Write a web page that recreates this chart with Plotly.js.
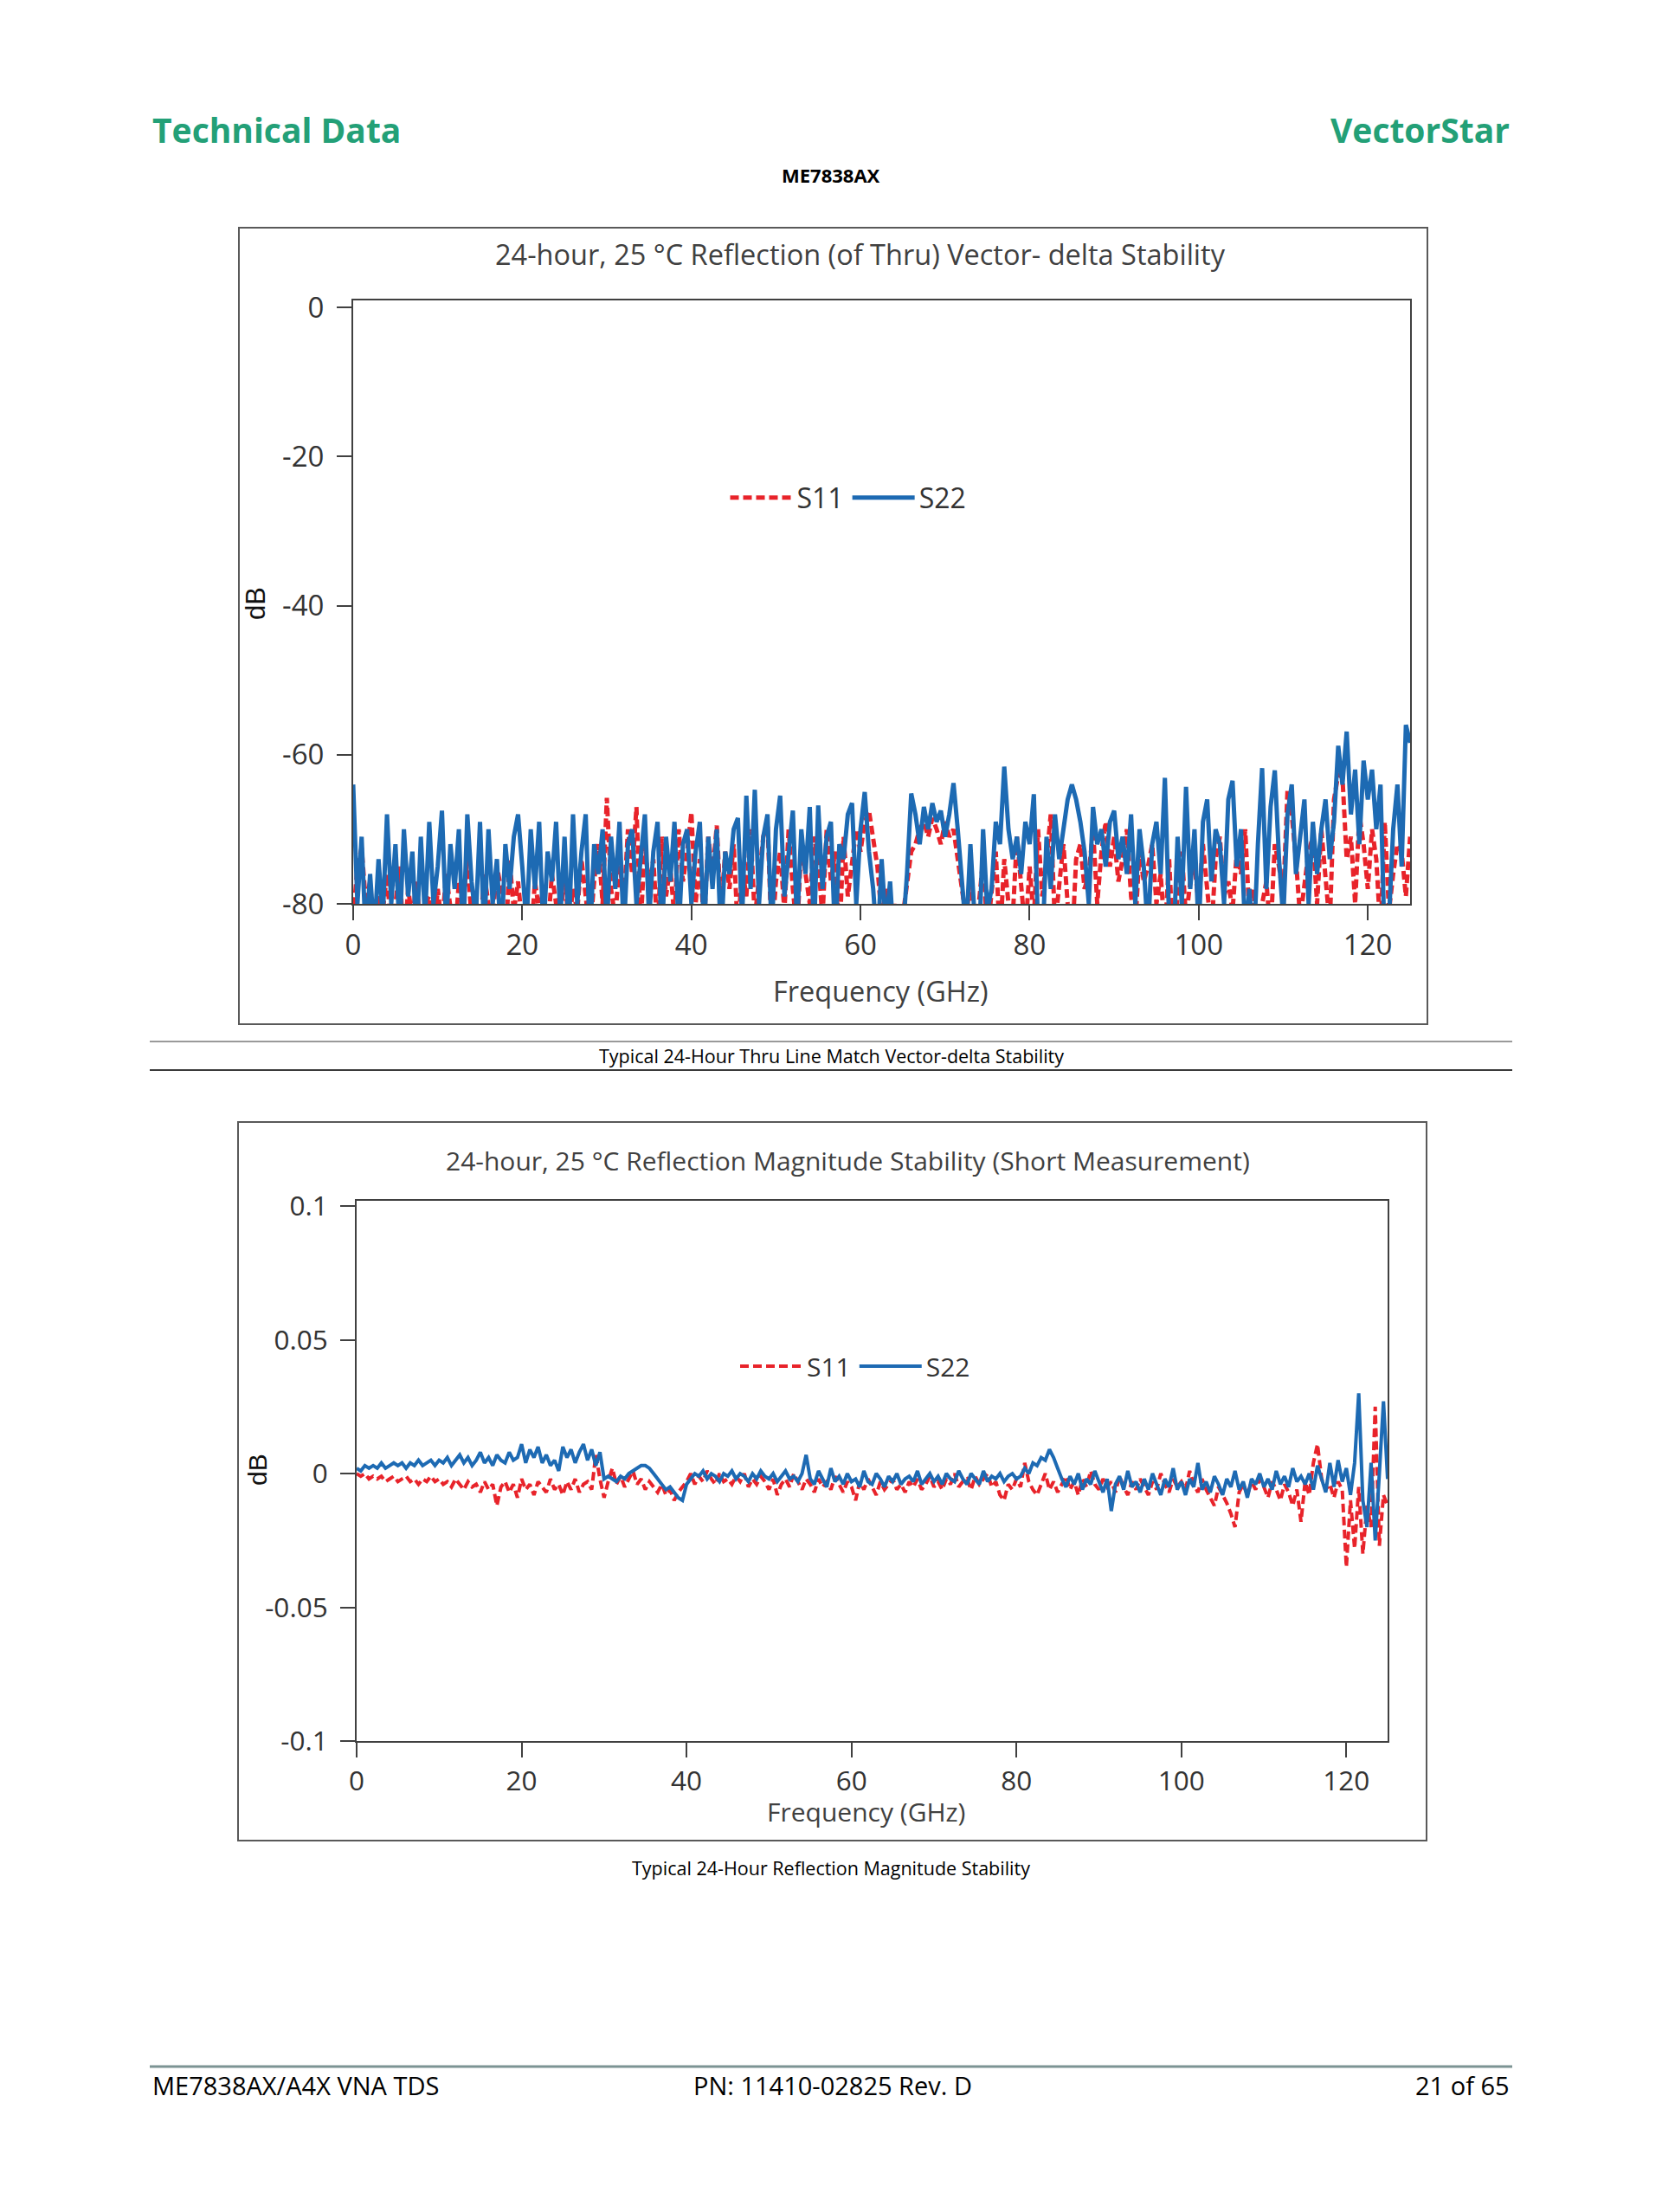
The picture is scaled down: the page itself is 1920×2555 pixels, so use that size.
<!DOCTYPE html>
<html><head><meta charset="utf-8">
<script src="https://cdn.plot.ly/plotly-3.0.1.min.js"></script>
<style>html,body{margin:0;padding:0;background:#fff}#chart{width:1920px;height:2555px}</style>
</head><body><div id="chart"></div>
<script>
// ---------- DATA ----------
const freqGHz = [
0,0.5,1,1.5,2,2.5,3,3.5,4,4.5, 5,5.5,6,6.5,7,7.5,8,8.5,9,9.5,
10,10.5,11,11.5,12,12.5,13,13.5,14,14.5, 15,15.5,16,16.5,17,17.5,18,18.5,19,19.5,
20,20.5,21,21.5,22,22.5,23,23.5,24,24.5, 25,25.5,26,26.5,27,27.5,28,28.5,29,29.5,
30,30.5,31,31.5,32,32.5,33,33.5,34,34.5, 35,35.5,36,36.5,37,37.5,38,38.5,39,39.5,
40,40.5,41,41.5,42,42.5,43,43.5,44,44.5, 45,45.5,46,46.5,47,47.5,48,48.5,49,49.5,
50,50.5,51,51.5,52,52.5,53,53.5,54,54.5, 55,55.5,56,56.5,57,57.5,58,58.5,59,59.5,
60,60.5,61,61.5,62,62.5,63,63.5,64,64.5, 65,65.5,66,66.5,67,67.5,68,68.5,69,69.5,
70,70.5,71,71.5,72,72.5,73,73.5,74,74.5, 75,75.5,76,76.5,77,77.5,78,78.5,79,79.5,
80,80.5,81,81.5,82,82.5,83,83.5,84,84.5, 85,85.5,86,86.5,87,87.5,88,88.5,89,89.5,
90,90.5,91,91.5,92,92.5,93,93.5,94,94.5, 95,95.5,96,96.5,97,97.5,98,98.5,99,99.5,
100,100.5,101,101.5,102,102.5,103,103.5,104,104.5, 105,105.5,106,106.5,107,107.5,108,108.5,109,109.5,
110,110.5,111,111.5,112,112.5,113,113.5,114,114.5, 115,115.5,116,116.5,117,117.5,118,118.5,119,119.5,
120,120.5,121,121.5,122,122.5,123,123.5,124,124.5, 125];

// Chart 1: vector-delta stability (dB)
const thruS11 = [
-82,-75,-72.5,-80,-77,-85,-79,-81,-76,-84, -80,-75,-86,-78,-82,-77,-84,-80,-79,-85,
-78,-83,-76,-81,-85,-77,-80,-74,-82,-79, -84,-76,-80,-82,-75,-78,-86,-74,-81,-77,
-83,-79,-85,-77,-81,-78,-84,-76,-80,-82, -76,-83,-78,-81,-74,-79,-84,-77,-72,-80,
-65.8,-78,-82,-74,-80,-70,-76,-67,-83,-72, -78,-74,-84,-71,-79,-75,-82,-70,-77,-73,
-67.7,-80,-74,-83,-71,-76,-69.5,-81,-73,-78, -72,-84,-75,-79,-70,-82,-76,-71,-69,-85,
-77,-73,-81,-70,-78,-84,-72,-76,-80,-71, -74,-82,-70,-77,-73,-85,-71,-79,-74,-70,
-73,-69,-67.5,-71,-75,-82,-78,-84,-80,-86, -82,-77,-73,-72,-70,-69,-71,-68.5,-70,-72,
-69,-71,-70,-74,-78,-82,-76,-85,-80,-74, -84,-79,-73,-85,-74,-80,-82,-71,-78,-84,
-75,-82,-70,-79,-74,-68,-83,-77,-72,-80, -86,-74,-72,-78,-76,-70,-80,-73,-69,-75,
-71,-77,-74,-70,-79,-83,-73,-77,-75,-72, -80,-76,-84,-74,-86,-79,-73,-82,-77,-75,
-80,-72,-78,-84,-74,-71,-79,-77,-81,-73, -76,-70,-82,-78,-86,-80,-77,-84,-72,-75,
-79,-64.8,-68,-74,-82,-78,-73,-71,-80,-70, -76,-83,-66,-62.7,-63,-74,-71,-80,-68,-72,
-78,-70,-74,-84,-69,-81,-76,-72,-73,-79, -71];
const thruS22 = [
-64,-80,-71,-85,-76,-84,-74,-82,-68,-80, -72,-84,-70,-79,-73,-85,-71,-82,-69,-80,
-75,-67.5,-83,-72,-78,-70,-85,-68,-77,-82, -69,-84,-70,-80,-74,-86,-72,-78,-71,-68,
-75,-83,-70,-78,-69,-84,-73,-77,-69,-82, -71,-84,-68,-80,-73,-68,-85,-72,-76,-70,
-83,-71,-78,-69,-84,-72,-70,-80,-74,-68, -82,-73,-69,-85,-71,-77,-69,-84,-72,-70,
-80,-73,-69,-84,-71,-78,-70,-85,-73,-76, -70,-68.5,-82,-65.5,-78,-64.7,-80,-71,-68,-84,
-70,-65.5,-79,-73,-67.5,-83,-70,-76,-67,-84, -66.8,-78,-71,-69,-85,-72,-74,-68,-66.5,-80,
-70,-65,-73,-78,-86,-74,-83,-77,-86,-81, -84,-76,-65.2,-68,-72,-67,-70,-66.5,-69,-67.5,
-71,-68,-63.8,-70,-76,-84,-72,-82,-86,-70, -81,-78,-69,-72,-61.6,-70,-74,-71,-76,-69,
-72,-65.3,-83,-86,-71,-78,-68,-74,-70,-66, -64,-66,-69,-73,-80,-67,-72,-70,-75,-69,
-67.5,-74,-71,-76,-68,-80,-70,-75,-84,-72, -69,-76,-63.1,-82,-86,-71,-80,-64.3,-78,-70,
-84,-69,-66,-77,-70,-72,-80,-66,-63.5,-75, -70,-84,-78,-86,-72,-61.8,-78,-67,-62.1,-74,
-82,-68,-64,-76,-71,-66,-80,-69,-76,-70, -66,-74,-69,-58.8,-64,-56.9,-68,-62,-72,-60.8,
-66,-62,-70,-64,-86,-82,-70,-64,-75,-56, -58.4];

// Chart 2: reflection magnitude stability (dB)
const shortS11 = [
0.000,-0.001,0.000,-0.002,-0.001,-0.002,-0.001,-0.003,-0.002,-0.001, -0.003,-0.002,-0.001,-0.003,-0.002,-0.004,-0.002,-0.003,-0.001,-0.003,
-0.002,-0.004,-0.003,-0.005,-0.002,-0.004,-0.006,-0.003,-0.005,-0.004, -0.007,-0.003,-0.006,-0.004,-0.012,-0.005,-0.003,-0.007,-0.004,-0.009,
-0.002,-0.006,-0.004,-0.008,-0.003,-0.005,-0.007,-0.002,-0.006,-0.004, -0.008,-0.003,-0.006,-0.002,-0.007,-0.004,-0.003,-0.006,0.007,-0.002,
-0.009,-0.003,0.002,-0.004,-0.001,-0.005,-0.002,0.001,-0.004,-0.002, -0.006,-0.003,-0.005,-0.007,-0.004,-0.008,-0.006,-0.010,-0.007,-0.005,
-0.003,0.000,-0.004,-0.001,-0.003,0.001,-0.002,-0.004,0.000,-0.003, -0.002,-0.004,-0.001,-0.003,0.000,-0.005,-0.002,-0.004,-0.001,-0.003,
-0.006,-0.002,-0.008,-0.004,-0.002,-0.005,0.000,-0.003,-0.006,-0.002, -0.004,-0.007,-0.002,-0.005,-0.003,-0.006,-0.001,-0.004,-0.007,-0.003,
-0.005,-0.010,-0.003,-0.006,-0.002,-0.005,-0.008,-0.003,-0.006,-0.004, -0.002,-0.006,-0.004,-0.007,-0.003,-0.005,-0.002,-0.006,-0.004,-0.001,
-0.005,-0.003,-0.006,-0.002,-0.004,0.000,-0.005,-0.003,-0.002,-0.006, -0.001,-0.004,-0.002,0.000,-0.005,-0.003,-0.008,-0.010,-0.004,-0.006,
-0.002,-0.005,0.004,-0.003,-0.006,-0.008,-0.004,0.000,-0.006,-0.003, -0.007,-0.004,-0.001,-0.006,-0.003,-0.008,-0.002,-0.005,0.001,-0.004,
-0.006,-0.002,-0.005,-0.003,-0.007,-0.001,-0.005,-0.008,-0.003,-0.006, -0.002,-0.005,-0.008,-0.003,-0.006,0.000,-0.004,-0.007,-0.002,-0.005,
-0.003,-0.006,0.001,-0.004,-0.007,-0.002,-0.006,-0.009,-0.012,-0.005, -0.008,-0.011,-0.015,-0.020,-0.007,-0.004,-0.008,-0.003,-0.006,-0.002,
-0.005,-0.009,-0.003,-0.006,-0.010,-0.004,-0.007,-0.012,-0.006,-0.018, -0.003,-0.008,0.004,0.011,-0.002,-0.006,-0.004,-0.009,-0.003,-0.006,
-0.035,-0.010,-0.028,-0.005,-0.030,-0.012,-0.020,0.025,-0.027,-0.008, -0.012];
const shortS22 = [
0.002,0.001,0.003,0.002,0.003,0.002,0.004,0.002,0.003,0.004, 0.003,0.004,0.002,0.004,0.003,0.005,0.003,0.004,0.005,0.003,
0.005,0.004,0.006,0.003,0.005,0.007,0.004,0.006,0.003,0.005, 0.008,0.004,0.006,0.003,0.007,0.005,0.004,0.008,0.005,0.006,
0.011,0.004,0.009,0.006,0.010,0.004,0.007,0.003,0.005,0.001, 0.010,0.006,0.009,0.004,0.008,0.011,0.005,0.009,0.003,0.008,
-0.002,-0.001,-0.002,-0.003,-0.001,-0.002,0.000,0.001,0.002,0.003, 0.003,0.002,0.000,-0.002,-0.004,-0.006,-0.005,-0.007,-0.009,-0.010,
-0.004,-0.002,0.000,-0.001,0.001,-0.002,0.000,-0.001,-0.003,0.000, -0.001,0.001,-0.002,0.000,-0.001,-0.003,0.000,-0.002,0.001,-0.001,
-0.002,0.000,-0.003,-0.001,0.001,-0.002,-0.001,-0.003,0.000,0.007, -0.002,-0.004,0.001,-0.002,-0.005,0.002,-0.003,-0.001,-0.004,0.000,
-0.003,-0.002,-0.005,0.001,-0.003,-0.004,0.000,-0.002,-0.005,-0.001, -0.003,0.000,-0.004,-0.002,-0.001,-0.003,0.001,-0.004,-0.002,0.000,
-0.003,-0.001,-0.004,0.000,-0.002,-0.003,0.001,-0.002,-0.004,0.000, -0.002,-0.004,0.001,-0.003,-0.001,-0.002,0.000,-0.003,-0.001,0.000,
-0.002,-0.001,0.002,0.000,0.004,0.003,0.006,0.005,0.009,0.006, 0.002,-0.002,-0.005,-0.001,-0.004,0.000,-0.006,-0.002,-0.004,0.001,
-0.003,-0.007,-0.002,-0.014,-0.004,-0.001,-0.006,0.001,-0.005,-0.003, -0.007,-0.002,-0.006,0.000,-0.004,-0.008,-0.002,-0.005,0.002,-0.006,
-0.003,-0.008,-0.002,-0.005,0.004,-0.006,-0.003,-0.007,-0.001,-0.004, -0.008,-0.002,-0.005,0.001,-0.006,-0.003,-0.009,-0.002,-0.004,0.000,
-0.005,-0.002,-0.006,0.001,-0.004,-0.001,-0.005,0.002,-0.003,-0.001, -0.004,0.000,-0.006,0.003,-0.002,-0.007,0.004,-0.005,0.005,-0.003,
0.002,-0.008,0.004,0.030,-0.010,-0.020,0.004,-0.025,0.000,0.027, -0.002];

const xTickVals = [0,20,40,60,80,100,120];
const xTickText = ['0','20','40','60','80','100','120'];
const y1TickVals = [0,-20,-40,-60,-80];
const y1TickText = ['0','-20','-40','-60','-80'];
const y2TickVals = [0.1,0.05,0,-0.05,-0.1];
const y2TickText = ['0.1','0.05','0','-0.05','-0.1'];

// ---------- LAYOUT ----------
const W = 1920, H = 2555;
const px = x => x / W, py = y => 1 - y / H;
const RED = '#e8232a', BLUE = '#1d6ab3';
const FONT = '"Open Sans", "Noto Sans", sans-serif';
const AX = '#404040';

const traces = [
  {x: freqGHz, y: thruS11, name: 'S11', type: 'scatter', mode: 'lines', xaxis: 'x', yaxis: 'y', legend: 'legend',
   line: {color: RED, width: 5, dash: '10px,5px'}},
  {x: freqGHz, y: thruS22, name: 'S22', type: 'scatter', mode: 'lines', xaxis: 'x', yaxis: 'y', legend: 'legend',
   line: {color: BLUE, width: 5}},
  {x: freqGHz, y: shortS11, name: 'S11', type: 'scatter', mode: 'lines', xaxis: 'x2', yaxis: 'y2', legend: 'legend2',
   line: {color: RED, width: 4, dash: '10px,5px'}},
  {x: freqGHz, y: shortS22, name: 'S22', type: 'scatter', mode: 'lines', xaxis: 'x2', yaxis: 'y2', legend: 'legend2',
   line: {color: BLUE, width: 4}}
];

function axisBase(size, extra) {
  return Object.assign({
    showgrid: false, zeroline: false, showline: true, mirror: true,
    linecolor: AX, linewidth: 2, ticks: 'outside', ticklen: 17, tickwidth: 2, tickcolor: AX,
    tickfont: {family: FONT, size: size, color: '#333'}, tickmode: 'array', fixedrange: true
  }, extra);
}

const ann = [];
function txt(t, x, y, size, opts) {
  ann.push(Object.assign({text: t, x: px(x), y: py(y), xref: 'paper', yref: 'paper', showarrow: false,
    xanchor: 'center', yanchor: 'middle', font: {family: FONT, size: size, color: '#000'}}, opts || {}));
}
const GREEN = '#23a077';
const DB_FONT = '"Liberation Sans", Arial, sans-serif';
txt('<b>Technical Data</b>', 174, 149, 39, {xanchor: 'left', font: {family: FONT, size: 39, color: GREEN}});
txt('<b>VectorStar</b>', 1746, 149, 39, {xanchor: 'right', font: {family: FONT, size: 39, color: GREEN}});
txt('<b>ME7838AX</b>', 960, 202, 22);
txt('24-hour, 25 °C Reflection (of Thru) Vector- delta Stability', 994, 294, 32.5, {font: {family: FONT, size: 32.5, color: '#404040'}});
txt('Frequency (GHz)', 1018, 1144, 32.5, {font: {family: FONT, size: 32.5, color: '#404040'}});
txt('dB', 296, 697, 31, {textangle: -90, font: {family: DB_FONT, size: 31, color: '#111'}});
txt('Typical 24-Hour Thru Line Match Vector-delta Stability', 960, 1219, 21.5);
txt('24-hour, 25 °C Reflection Magnitude Stability (Short Measurement)', 980, 1340, 30, {font: {family: FONT, size: 30, color: '#404040'}});
txt('Frequency (GHz)', 1000, 2092, 30, {font: {family: FONT, size: 30, color: '#404040'}});
txt('dB', 297, 1698, 30, {textangle: -90, font: {family: DB_FONT, size: 30, color: '#111'}});
txt('Typical 24-Hour Reflection Magnitude Stability', 960, 2157, 21.5);
txt('ME7838AX/A4X VNA TDS', 174, 2408, 29, {xanchor: 'left'});
txt('PN: 11410-02825 Rev. D', 799, 2408, 29, {xanchor: 'left'});
txt('21 of 65', 1746, 2408, 29, {xanchor: 'right'});

const shapes = [
  {type: 'rect', xref: 'paper', yref: 'paper', x0: px(276), x1: px(1649), y0: py(263), y1: py(1183), line: {color: '#595959', width: 2}},
  {type: 'rect', xref: 'paper', yref: 'paper', x0: px(275), x1: px(1648), y0: py(1296), y1: py(2126), line: {color: '#595959', width: 2}},
  {type: 'line', xref: 'paper', yref: 'paper', x0: px(173), x1: px(1747), y0: py(1203), y1: py(1203), line: {color: '#9a9a9a', width: 2}},
  {type: 'line', xref: 'paper', yref: 'paper', x0: px(173), x1: px(1747), y0: py(1236), y1: py(1236), line: {color: '#3a3a3a', width: 2}},
  {type: 'line', xref: 'paper', yref: 'paper', x0: px(173), x1: px(1747), y0: py(2387), y1: py(2387), line: {color: '#7c9494', width: 3}}
];

const layout = {
  width: W, height: H, margin: {l: 0, r: 0, t: 0, b: 0},
  paper_bgcolor: '#fff', plot_bgcolor: '#fff',
  font: {family: FONT, color: '#333'},
  xaxis: axisBase(33, {domain: [px(408), px(1629)], range: [0, 125], tickvals: xTickVals, ticktext: xTickText, anchor: 'y', ticklabelstandoff: 0}),
  yaxis: axisBase(33, {domain: [py(1044), py(347)], range: [-80, 0.93], tickvals: y1TickVals, ticktext: y1TickText, anchor: 'x', ticklabelstandoff: 8}),
  xaxis2: axisBase(31.5, {domain: [px(412), px(1603)], range: [0, 125], tickvals: xTickVals, ticktext: xTickText, anchor: 'y2', ticklabelstandoff: 0}),
  yaxis2: axisBase(31.5, {domain: [py(2011), py(1387)], range: [-0.1, 0.102], tickvals: y2TickVals, ticktext: y2TickText, anchor: 'x2', ticklabelstandoff: 8}),
  legend: {x: px(980), y: py(575), xanchor: 'center', yanchor: 'middle', orientation: 'h',
    font: {family: FONT, size: 32, color: '#333'}, bgcolor: 'rgba(0,0,0,0)', itemwidth: 72},
  legend2: {x: px(988), y: py(1578), xanchor: 'center', yanchor: 'middle', orientation: 'h',
    font: {family: FONT, size: 30, color: '#333'}, bgcolor: 'rgba(0,0,0,0)', itemwidth: 72},
  annotations: ann,
  shapes: shapes,
  showlegend: true
};

Plotly.newPlot('chart', traces, layout, {staticPlot: true, displayModeBar: false});
</script>
</body></html>
